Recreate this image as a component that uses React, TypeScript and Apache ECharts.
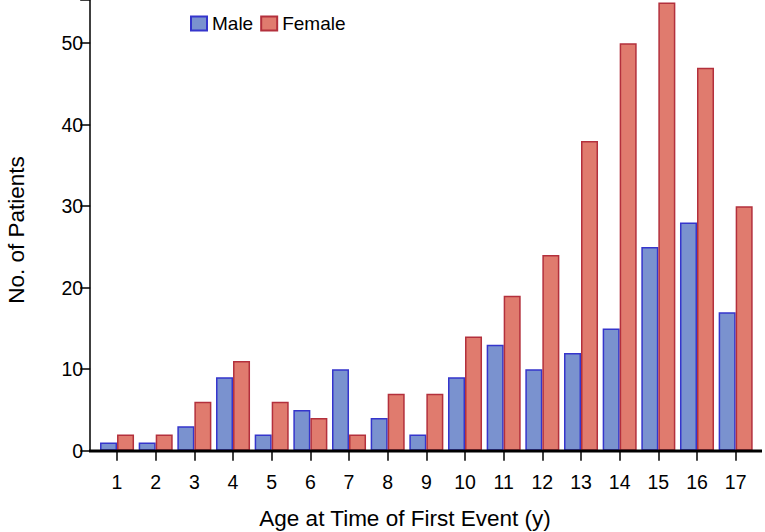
import React, { useEffect, useRef } from "react";
import * as echarts from "echarts";

const categories = ["1","2","3","4","5","6","7","8","9","10","11","12","13","14","15","16","17"];
const maleValues = [1, 1, 3, 9, 2, 5, 10, 4, 2, 9, 13, 10, 12, 15, 25, 28, 17];
const femaleValues = [2, 2, 6, 11, 6, 4, 2, 7, 7, 14, 19, 24, 38, 50, 55, 47, 30];
const yTicks = [0, 10, 20, 30, 40, 50];

const FONT = "Liberation Sans, Arial, sans-serif";

export default function App() {
  const ref = useRef<HTMLDivElement>(null);
  useEffect(() => {
    if (!ref.current) return;
    const chart = echarts.init(ref.current, undefined, { renderer: "svg" });
    chart.setOption({
      animation: false,
      textStyle: { fontFamily: FONT, color: "#000" },
      grid: { left: 97.7, right: 10, top: 0, bottom: 81.3, containLabel: false },
      legend: {
        left: 185,
        top: 9,
        icon: "rect",
        itemWidth: 16,
        itemHeight: 14,
        itemGap: 7,
        textStyle: { fontFamily: FONT, fontSize: 19, color: "#000" },
        data: ["Male", "Female"],
      },
      xAxis: {
        type: "category",
        data: categories,
        axisLine: { show: false },
        axisTick: { show: true, alignWithLabel: true, length: 10, lineStyle: { color: "#000", width: 1.5 } },
        axisLabel: { fontFamily: FONT, fontSize: 19.5, color: "#000", margin: 21 },
      },
      yAxis: {
        type: "value",
        min: 0,
        max: 55.3,
        interval: 10,
        offset: 7.5,
        splitLine: { show: false },
        axisLine: { show: true, lineStyle: { color: "#000", width: 1.5 } },
        axisTick: { show: true, length: 10, lineStyle: { color: "#000", width: 1.5 } },
        axisLabel: {
          fontFamily: FONT,
          fontSize: 19.5,
          color: "#000",
          margin: 7,
          formatter: (v: number) => (yTicks.includes(v) ? String(v) : ""),
        },
        showMaxLabel: false,
      },
      graphic: [
        {
          type: "line",
          shape: { x1: 89, y1: 451, x2: 762, y2: 451 },
          style: { stroke: "#000", lineWidth: 3 },
          z: 10,
        },
        {
          type: "text",
          x: 405,
          y: 518,
          style: {
            text: "Age at Time of First Event (y)",
            fontFamily: FONT,
            fontSize: 22.5,
            fill: "#000",
            textAlign: "center",
            textVerticalAlign: "middle",
          },
        },
        {
          type: "text",
          x: 16,
          y: 230,
          rotation: Math.PI / 2,
          style: {
            text: "No. of Patients",
            fontFamily: FONT,
            fontSize: 22.5,
            fill: "#000",
            textAlign: "center",
            textVerticalAlign: "middle",
          },
        },
      ],
      series: [
        {
          name: "Male",
          type: "bar",
          data: maleValues,
          barGap: "0%",
          barCategoryGap: "12%",
          itemStyle: { color: "#7a92cf", borderColor: "#3535cc", borderWidth: 1.5 },
        },
        {
          name: "Female",
          type: "bar",
          data: femaleValues,
          barGap: "0%",
          barCategoryGap: "12%",
          itemStyle: { color: "#e07b6e", borderColor: "#b3303c", borderWidth: 1.5 },
        },
      ],
    });
    return () => chart.dispose();
  }, []);
  return <div ref={ref} style={{ width: 765, height: 532, position: "absolute", left: 0, top: 0 }} />;
}
